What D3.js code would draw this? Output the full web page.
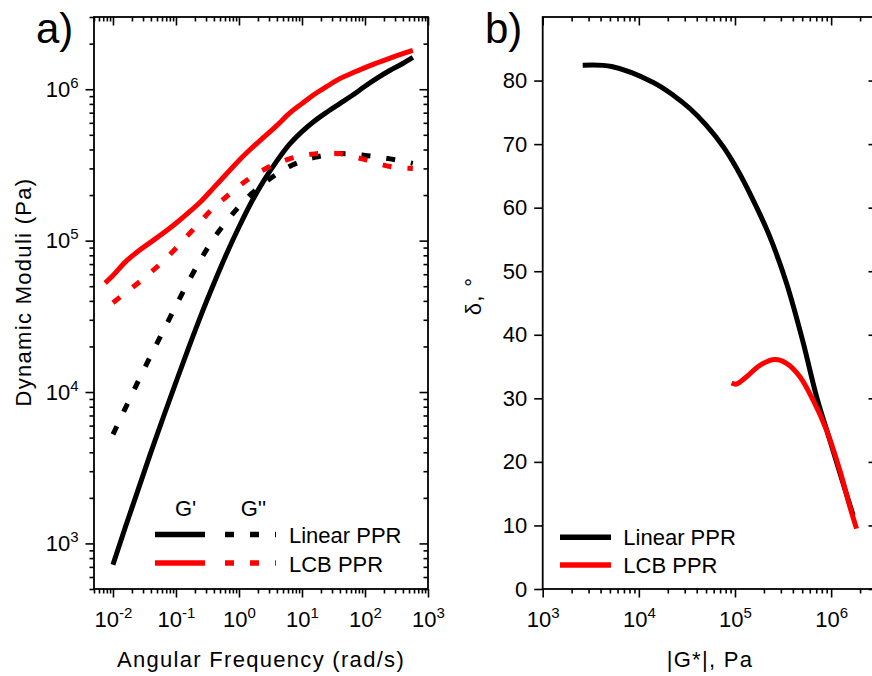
<!DOCTYPE html>
<html>
<head>
<meta charset="utf-8">
<script src="https://cdn.jsdelivr.net/npm/d3@7"></script>
<style>
  body { margin: 0; background: #fff; }
  text { font-family: "Liberation Sans", Arial, sans-serif; }
</style>
</head>
<body>
<div id="chart"></div>
<script>
// a) frequency sweep, angular frequency in rad/s, moduli in Pa
const linearOmega = [0.01, 0.0158, 0.0251, 0.0398, 0.0631, 0.1, 0.158, 0.251, 0.398, 0.631, 1, 1.58, 2.51, 3.98, 6.31, 10, 15.8, 25.1, 39.8, 63.1, 100, 158, 251, 398, 575];
const linearGp = [724, 1288, 2265, 3981, 6839, 11610, 19500, 32360, 51880, 81280, 123000, 179900, 251200, 335000, 431500, 524800, 616600, 707900, 803500, 912000, 1047000, 1189000, 1334000, 1479000, 1622000];
const linearGpp = [5248, 7852, 11750, 17380, 25410, 37150, 53700, 75860, 103500, 133400, 167900, 204200, 239900, 275400, 309000, 335000, 354800, 368900, 375800, 373300, 365600, 356500, 346700, 335000, 323600];
const lcbOmegaGp = [0.0075, 0.01, 0.0158, 0.0251, 0.0398, 0.0631, 0.1, 0.158, 0.251, 0.398, 0.631, 1, 1.58, 2.51, 3.98, 6.31, 10, 15.8, 25.1, 39.8, 63.1, 100, 158, 251, 398, 575];
const lcbGp = [52480, 58880, 72440, 85110, 97720, 112200, 130300, 153100, 182000, 223900, 275400, 338800, 407400, 484200, 575400, 691800, 803500, 926800, 1047000, 1175000, 1279000, 1390000, 1496000, 1607000, 1718000, 1807000];
const lcbOmegaGpp = [0.01, 0.0158, 0.0251, 0.0398, 0.0631, 0.1, 0.158, 0.251, 0.398, 0.631, 1, 1.58, 2.51, 3.98, 6.31, 10, 15.8, 25.1, 39.8, 63.1, 100, 158, 251, 398, 575];
const lcbGpp = [38900, 45190, 52480, 61660, 73280, 89130, 109600, 134900, 166000, 195000, 229100, 263000, 295100, 323600, 346700, 364800, 374100, 378400, 375800, 358900, 342800, 323600, 309000, 302000, 299900];

// b) van Gurp-Palmen, |G*| in Pa, phase angle in degrees
const linearGstar = [2606, 5212, 14130, 22800, 33960, 50700, 75340, 104000, 154500, 230700, 343600, 501200, 704700, 970500, 1334000, 1694000];
const linearDelta = [82.4, 82.2, 79.7, 77.7, 75.6, 72.9, 69.6, 66.2, 61.2, 55.4, 48.1, 39.3, 30.3, 23.4, 16.6, 11.6];
const lcbGstar = [92260, 104000, 132100, 181600, 260000, 343600, 473200, 650100, 895300, 1230000, 1563000, 1837000];
const lcbDelta = [32.4, 32.25, 33.4, 35.2, 36.1, 35.5, 33.4, 29.7, 25.0, 18.7, 13.0, 9.5];

const seriesNames = ["Linear PPR", "LCB PPR"];
const seriesColors = ["#000000", "#ff0000"];
const moduliNames = ["G'", "G''"];

const freqTicks = [0.01, 0.1, 1, 10, 100, 1000];
const moduliTicks = [1e3, 1e4, 1e5, 1e6];
const gstarTicks = [1e3, 1e4, 1e5, 1e6];
const deltaTicks = [0, 10, 20, 30, 40, 50, 60, 70, 80];

const svg = d3.select("#chart").append("svg")
  .attr("width", 872)
  .attr("height", 676);

// scales
const xA = d3.scaleLog().domain([0.005, 1000]).range([94, 428]);
const yA = d3.scaleLog().domain([500, 3e6]).range([589, 17]);
const xB = d3.scaleLog().domain([1e3, 3e6]).range([542.7, 877]);
const yB = d3.scaleLinear().domain([0, 90]).range([589, 17]);

const MAJOR = 8.5, MINOR = 4.5;

function logMinors(scale) {
  const [a, b] = scale.domain();
  let out = [];
  for (let e = Math.floor(Math.log10(a)); e <= Math.ceil(Math.log10(b)); e++) {
    for (let m = 2; m <= 9; m++) {
      let v = m * Math.pow(10, e);
      if (v >= a * 0.999 && v <= b * 1.001) out.push(v);
    }
  }
  return out;
}

// power-of-ten labels: "10" plus a raised exponent
function powLabels(g) {
  g.selectAll(".tick text").text(null).each(function (d) {
    let t = d3.select(this);
    t.append("tspan").text("10");
    t.append("tspan").attr("dy", -9).attr("font-size", 15).text(Math.round(Math.log10(d)));
  });
}

function axis(gen, tr, vals, size, pad, labels) {
  let g = svg.append("g").attr("transform", tr)
    .call(gen.tickValues(vals).tickSize(size).tickPadding(pad).tickFormat(labels ? (d => d) : () => ""));
  g.select(".domain").remove();
  g.attr("font-size", 22).attr("font-family", "Liberation Sans, Arial, sans-serif");
  g.selectAll("line").attr("stroke", "#000").attr("stroke-width", 1.6);
  g.selectAll("text").attr("fill", "#000");
  return g;
}

function frame(x, y, xMaj, xMin, yMaj, yMin, xLog, yLog) {
  let [l, r] = x.range(), [b, t] = y.range();
  // bottom / left point out, top / right point into the plot
  let gb = axis(d3.axisBottom(x), `translate(0,${b})`, xMaj, MAJOR, 14, true);
  if (xLog) powLabels(gb);
  axis(d3.axisBottom(x), `translate(0,${b})`, xMin, MINOR, 0, false);
  axis(d3.axisTop(x), `translate(0,${t})`, xMaj, -MAJOR, 0, false);
  axis(d3.axisTop(x), `translate(0,${t})`, xMin, -MINOR, 0, false);
  let gl = axis(d3.axisLeft(y), `translate(${l},0)`, yMaj, MAJOR, 7, true);
  if (yLog) powLabels(gl);
  if (yMin.length) axis(d3.axisLeft(y), `translate(${l},0)`, yMin, MINOR, 0, false);
  axis(d3.axisRight(y), `translate(${r},0)`, yMaj, -MAJOR, 0, false);
  if (yMin.length) axis(d3.axisRight(y), `translate(${r},0)`, yMin, -MINOR, 0, false);
  svg.append("rect")
    .attr("x", l).attr("y", t)
    .attr("width", r - l).attr("height", b - t)
    .attr("fill", "none")
    .attr("stroke", "#000")
    .attr("stroke-width", 1.8);
}

//------------------------ panel a
frame(xA, yA, freqTicks, logMinors(xA), moduliTicks, logMinors(yA), true, true);

const lineA = (xs) => d3.line()
  .x((d, i) => xA(xs[i]))
  .y(d => yA(d))
  .curve(d3.curveMonotoneX);

const panelA = [
  { xs: linearOmega, ys: linearGp, color: seriesColors[0], dash: null },
  { xs: linearOmega, ys: linearGpp, color: seriesColors[0], dash: "9,16" },
  { xs: lcbOmegaGp, ys: lcbGp, color: seriesColors[1], dash: null },
  { xs: lcbOmegaGpp, ys: lcbGpp, color: seriesColors[1], dash: "9,16" }
];

panelA.forEach(s => {
  svg.append("path")
    .attr("d", lineA(s.xs)(s.ys))
    .attr("fill", "none")
    .attr("stroke", s.color)
    .attr("stroke-width", 5)
    .attr("stroke-dasharray", s.dash);
});

//legend a
svg.append("text").attr("x", 175).attr("y", 516).attr("font-size", 22).text(moduliNames[0]);
svg.append("text").attr("x", 240.7).attr("y", 516).attr("font-size", 22).text(moduliNames[1]);
seriesNames.forEach((name, i) => {
  let ly = 534.5 + i * 28.5;
  svg.append("line").attr("x1", 155).attr("x2", 205).attr("y1", ly).attr("y2", ly)
    .attr("stroke", seriesColors[i]).attr("stroke-width", 5.5);
  svg.append("line").attr("x1", 225).attr("x2", 276).attr("y1", ly).attr("y2", ly)
    .attr("stroke", seriesColors[i]).attr("stroke-width", 5.5).attr("stroke-dasharray", "9,16");
  svg.append("text").attr("x", 289).attr("y", ly + 8.5).attr("font-size", 22).text(name);
});

svg.append("text")
  .attr("x", 261).attr("y", 667)
  .attr("text-anchor", "middle")
  .attr("font-size", 22)
  .attr("letter-spacing", "1.3px")
  .text("Angular Frequency (rad/s)");

svg.append("text")
  .attr("transform", "translate(30.5,292) rotate(-90)")
  .attr("text-anchor", "middle")
  .attr("font-size", 22)
  .attr("letter-spacing", "1.3px")
  .text("Dynamic Moduli (Pa)");

svg.append("text")
  .attr("x", 36).attr("y", 43)
  .attr("font-size", 42)
  .text("a)");

//------------------------ panel b
frame(xB, yB, gstarTicks, logMinors(xB), deltaTicks, [], true, false);

const lineB = (xs) => d3.line()
  .x((d, i) => xB(xs[i]))
  .y(d => yB(d))
  .curve(d3.curveCatmullRom.alpha(0.5));

svg.append("path")
  .attr("d", lineB(linearGstar)(linearDelta))
  .attr("fill", "none")
  .attr("stroke", seriesColors[0])
  .attr("stroke-width", 5);

svg.append("path")
  .attr("d", lineB(lcbGstar)(lcbDelta))
  .attr("fill", "none")
  .attr("stroke", seriesColors[1])
  .attr("stroke-width", 5);

//legend b
seriesNames.forEach((name, i) => {
  let ly = 537.3 + i * 27.7;
  svg.append("line").attr("x1", 560).attr("x2", 611).attr("y1", ly).attr("y2", ly)
    .attr("stroke", seriesColors[i]).attr("stroke-width", 5.5);
  svg.append("text").attr("x", 623.3).attr("y", ly + 8).attr("font-size", 22).text(name);
});

svg.append("text")
  .attr("x", 710).attr("y", 667)
  .attr("text-anchor", "middle")
  .attr("font-size", 22)
  .attr("letter-spacing", "1.3px")
  .text("|G*|, Pa");

svg.append("text")
  .attr("transform", "translate(481,296) rotate(-90)")
  .attr("text-anchor", "middle")
  .attr("font-size", 22)
  .attr("letter-spacing", "1.3px")
  .text("δ, °");

svg.append("text")
  .attr("x", 485).attr("y", 43)
  .attr("font-size", 42)
  .text("b)");
</script>
</body>
</html>
